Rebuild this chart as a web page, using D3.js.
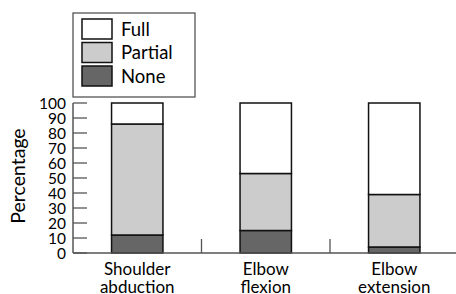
<!DOCTYPE html>
<html><head><meta charset="utf-8">
<script src="https://cdn.jsdelivr.net/npm/d3@7"></script>
<style>body{margin:0;background:#fff}svg{display:block}text{font-family:"Lato","DejaVu Sans",sans-serif;fill:#000}</style>
</head><body>
<svg id="c" width="456" height="294"></svg>
<script>
const categories = [["Shoulder","abduction"],["Elbow","flexion"],["Elbow","extension"]];
const none    = [12, 15, 4];
const partial = [74, 38, 35];
const full    = [14, 47, 61];
const seriesNames = ["None","Partial","Full"];
const yTicks = [0,10,20,30,40,50,60,70,80,90,100];
const colors = {None:"#666666", Partial:"#cccccc", Full:"#ffffff"};

const svg = d3.select("#c");
const x0 = 73, x1 = 458.5, yBase = 253, yTop = 103;
const x = d3.scaleBand().domain(d3.range(categories.length)).range([x0, x1]).padding(0);
const y = d3.scaleLinear().domain([0,100]).range([yBase, yTop]);

const rows = categories.map((c,i)=>({i, None:none[i], Partial:partial[i], Full:full[i]}));
const stack = d3.stack().keys(seriesNames)(rows);
const bw = x.bandwidth()*0.4;

// bars
stack.forEach(s=>{
  svg.append("g").selectAll("rect").data(s).join("rect")
    .attr("x", d=>x(d.data.i)+x.bandwidth()/2-bw/2)
    .attr("width", bw)
    .attr("y", d=>y(d[1]))
    .attr("height", d=>y(d[0])-y(d[1]))
    .attr("fill", colors[s.key])
    .attr("stroke","#111").attr("stroke-width",1.5);
});

// y axis
svg.append("line").attr("x1",x0).attr("x2",x0).attr("y1",y(100)).attr("y2",y(0)).attr("stroke","#555").attr("stroke-width",1.5);
svg.append("g").selectAll("line").data(yTicks).join("line")
  .attr("x1",x0).attr("x2",x0+14).attr("y1",d=>y(d)).attr("y2",d=>y(d))
  .attr("stroke","#555").attr("stroke-width",1.3);
svg.append("g").selectAll("text").data(yTicks).join("text")
  .attr("x",66).attr("y",d=>y(d)).attr("dy","0.36em").attr("text-anchor","end")
  .attr("font-size",15.5).text(d=>d);

// x axis
svg.append("line").attr("x1",x0).attr("x2",456).attr("y1",yBase).attr("y2",yBase).attr("stroke","#555").attr("stroke-width",1.5);
svg.append("g").selectAll("line").data([1,2]).join("line")
  .attr("x1",d=>x(d)).attr("x2",d=>x(d)).attr("y1",yBase).attr("y2",yBase-14)
  .attr("stroke","#555").attr("stroke-width",1.3);
const xl = svg.append("g").selectAll("text").data(categories).join("text")
  .attr("text-anchor","middle").attr("font-size",17)
  .attr("x",(d,i)=>x(i)+x.bandwidth()/2);
xl.append("tspan").attr("y",275).text(d=>d[0]);
xl.append("tspan").attr("x",(d,i)=>x(i)+x.bandwidth()/2).attr("y",293).text(d=>d[1]);

// y label
svg.append("text").attr("transform","translate(25,176) rotate(-90)").attr("text-anchor","middle")
  .attr("font-size",19.5).text("Percentage");

// legend
const lg = svg.append("g");
lg.append("rect").attr("x",73).attr("y",13).attr("width",122).attr("height",84)
  .attr("fill","#fff").attr("stroke","#555").attr("stroke-width",1.3);
const legItems = ["Full","Partial","None"];
legItems.forEach((k,i)=>{
  lg.append("rect").attr("x",82).attr("y",19+i*23.5).attr("width",30).attr("height",20)
    .attr("fill",colors[k]).attr("stroke","#111").attr("stroke-width",1.5);
  lg.append("text").attr("x",121).attr("y",29+i*23.5).attr("dy","0.36em").attr("font-size",18.5).text(k);
});
</script>
</body></html>
